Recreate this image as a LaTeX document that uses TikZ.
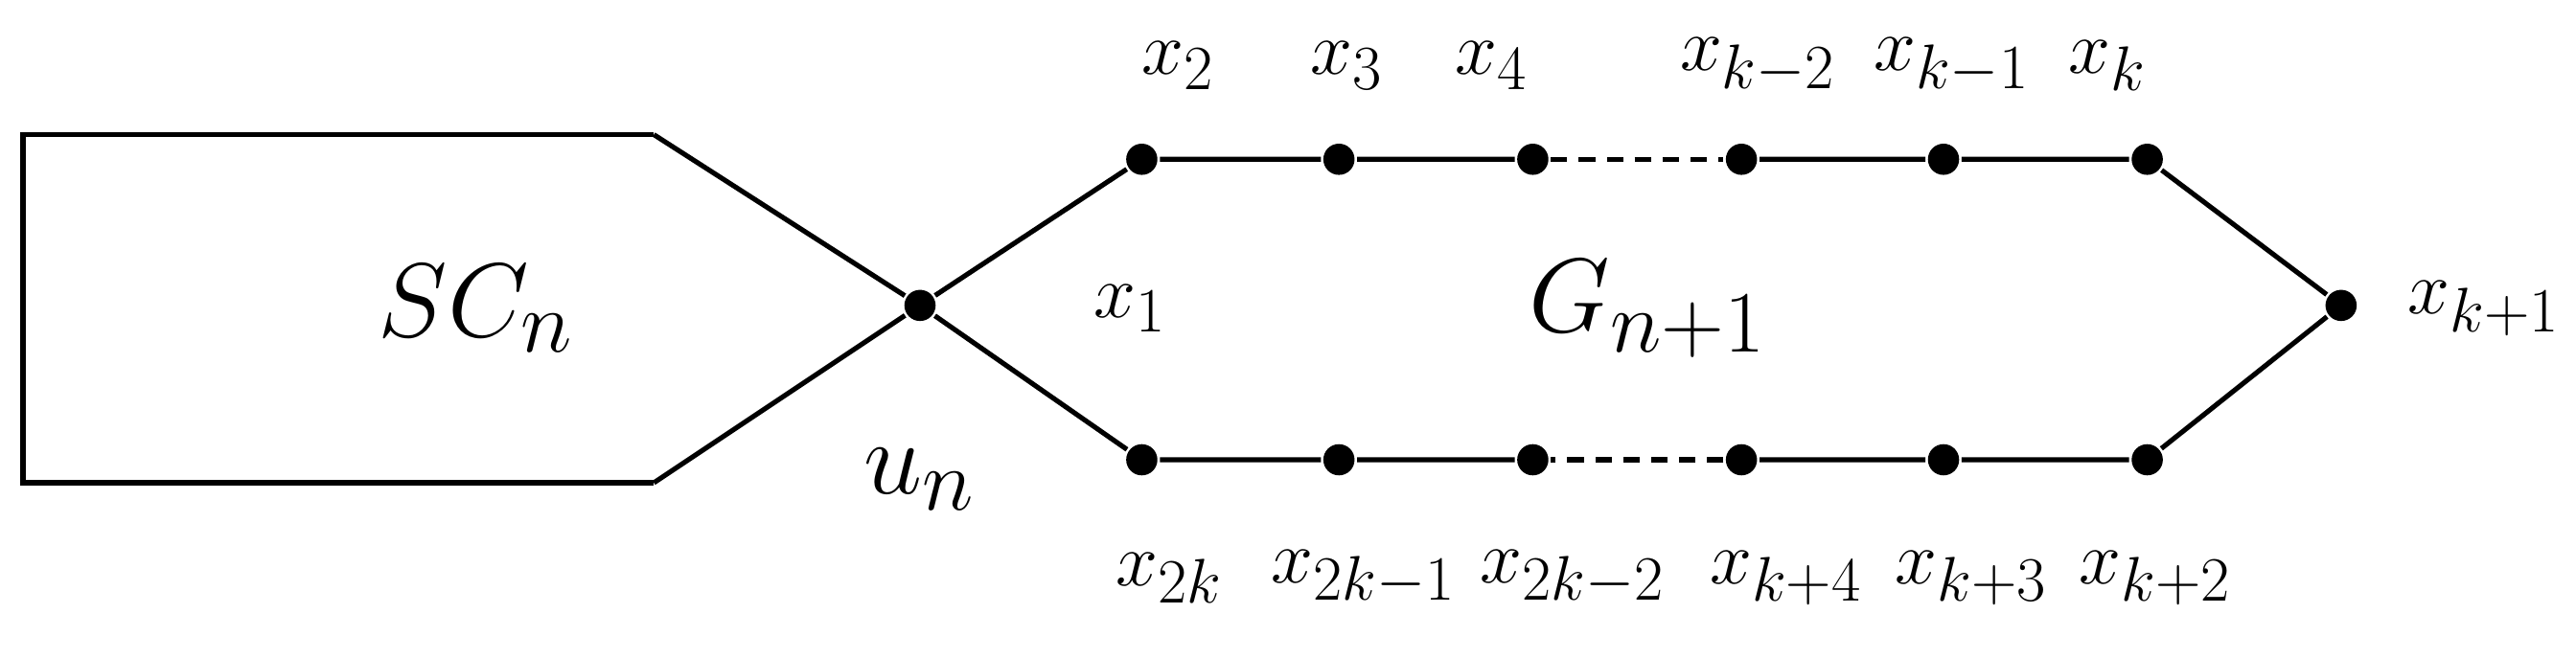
\documentclass[tikz,border=0pt]{standalone}
\begin{document}
\begin{tikzpicture}[x=1pt,y=-1pt,line width=3pt,
  dot/.style={circle,fill=black,inner sep=0pt,minimum size=19pt},
  lab/.style={font=\Huge,scale=1.85},
  big/.style={font=\Huge,scale=2.57},
  dsh/.style={dash pattern=on 10pt off 7pt}]
\useasboundingbox (0,0) rectangle (1568,401);
\draw (398,82) -- (14,82) -- (14,294) -- (398,294);
\node[dot] (u) at (560,186) {};
\draw (398,82) -- (u) -- (398,294);
\foreach \i/\x in {1/695,2/815,3/933,4/1060,5/1183,6/1307}{
  \node[dot] (t\i) at (\x,97) {};
  \node[dot] (b\i) at (\x,280) {};}
\node[dot] (r) at (1425,186) {};
\draw (u) -- (t1) -- (t2) -- (t3);
\draw[dsh] (t3) -- (t4);
\draw (t4) -- (t5) -- (t6) -- (r) -- (b6) -- (b5) -- (b4);
\draw[dsh] (b4) -- (b3);
\draw (b3) -- (b2) -- (b1) -- (u);
\node[lab] at (717,40) {$x_2$};
\node[lab] at (820,40) {$x_3$};
\node[lab] at (908,40) {$x_4$};
\node[lab] at (1070,40) {$x_{k-2}$};
\node[lab] at (1188,40) {$x_{k-1}$};
\node[lab] at (1283,40) {$x_k$};
\node[big] at (290,188) {$SC_n$};
\node[lab] at (688,188) {$x_1$};
\node[big] at (1003,188) {$G_{n+1}$};
\node[lab] at (1512,188) {$x_{k+1}$};
\node[big] at (560,292) {$u_n$};
\node[lab] at (712,352) {$x_{2k}$};
\node[lab] at (830,352) {$x_{2k-1}$};
\node[lab] at (957,352) {$x_{2k-2}$};
\node[lab] at (1087,352) {$x_{k+4}$};
\node[lab] at (1200,352) {$x_{k+3}$};
\node[lab] at (1312,352) {$x_{k+2}$};
\end{tikzpicture}
\end{document}
